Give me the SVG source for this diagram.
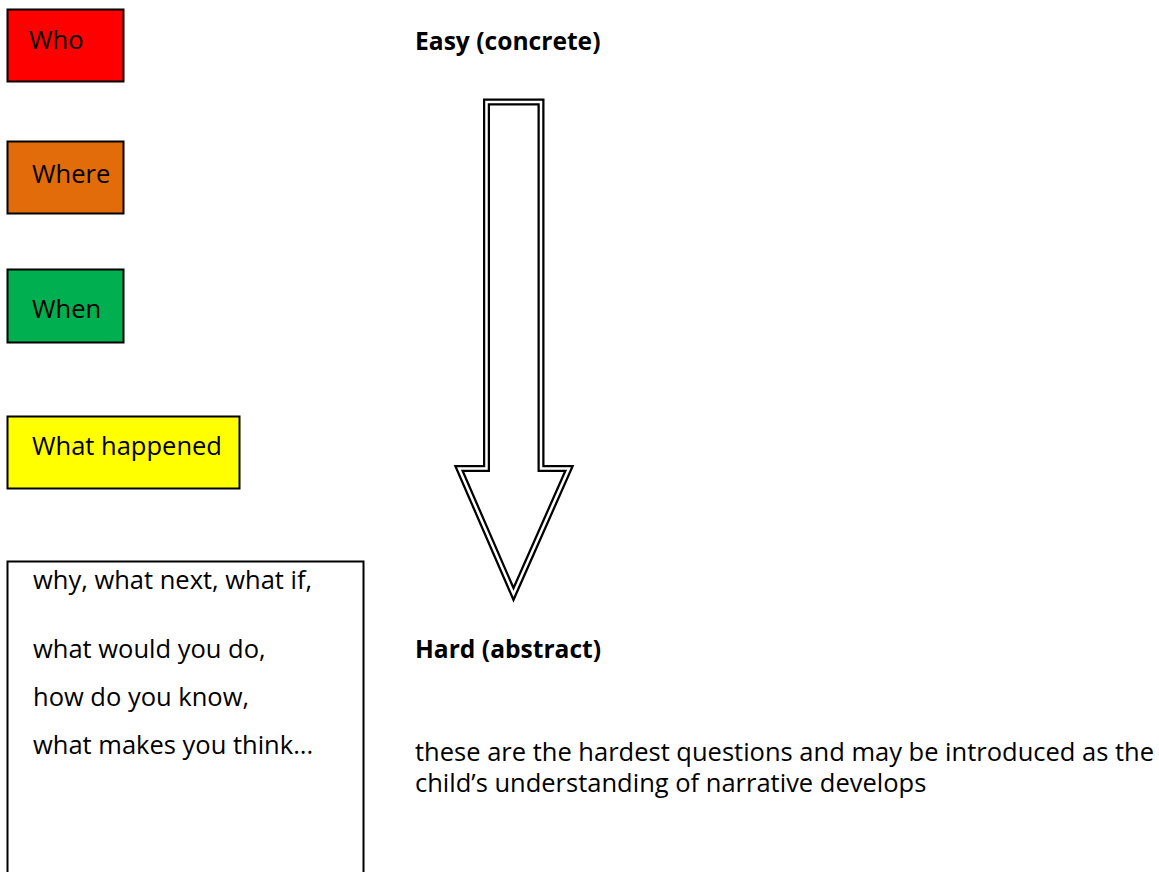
<svg xmlns="http://www.w3.org/2000/svg" width="1159" height="872" viewBox="0 0 1159 872">
<style>
.t{font-family:"Open Sans","Liberation Sans",sans-serif;font-size:25.5px;fill:#000}
.b{font-weight:bold;font-size:24.6px}
.box{stroke:#000;stroke-width:2}
</style>
<rect width="1159" height="872" fill="#fff"/>
<g id="who"><rect class="box" x="7.5" y="9.5" width="116" height="72" fill="#ff0000"/><text class="t" x="29" y="49">Who</text></g>
<g id="where"><rect class="box" x="7.5" y="141.5" width="116" height="72" fill="#e36c0a"/><text class="t" x="32" y="183">Where</text></g>
<g id="when"><rect class="box" x="7.5" y="269.5" width="116" height="73" fill="#00b050"/><text class="t" x="32" y="318">When</text></g>
<g id="what-happened"><rect class="box" x="7.5" y="416.5" width="232" height="72" fill="#ffff00"/><text class="t" x="32" y="455">What happened</text></g>
<g id="hard-questions"><rect class="box" x="7.5" y="561.5" width="356" height="320" fill="#fff"/>
<text class="t" x="33" y="589">why, what next, what if,</text>
<text class="t" x="33" y="658">what would you do,</text>
<text class="t" x="33" y="706">how do you know,</text>
<text class="t" x="33" y="754">what makes you think...</text></g>
<g id="easy"><text class="t b" x="415" y="50">Easy (concrete)</text></g>
<g id="hard"><text class="t b" x="415" y="658">Hard (abstract)</text></g>
<g id="note"><text class="t" x="415" y="761">these are the hardest questions and may be introduced as the</text><text class="t" x="415" y="792">child’s understanding of narrative develops</text></g>
<g id="connectors">
<path d="M486.5 102 H541 V468.5 H569 L513.5 594 L459 468.5 H486.5 Z" fill="#fff" stroke="#000" stroke-width="7" stroke-linejoin="miter" stroke-miterlimit="10"/>
<path d="M486.5 102 H541 V468.5 H569 L513.5 594 L459 468.5 H486.5 Z" fill="none" stroke="#fff" stroke-width="2.5" stroke-linejoin="miter" stroke-miterlimit="10"/>
</g>
</svg>
